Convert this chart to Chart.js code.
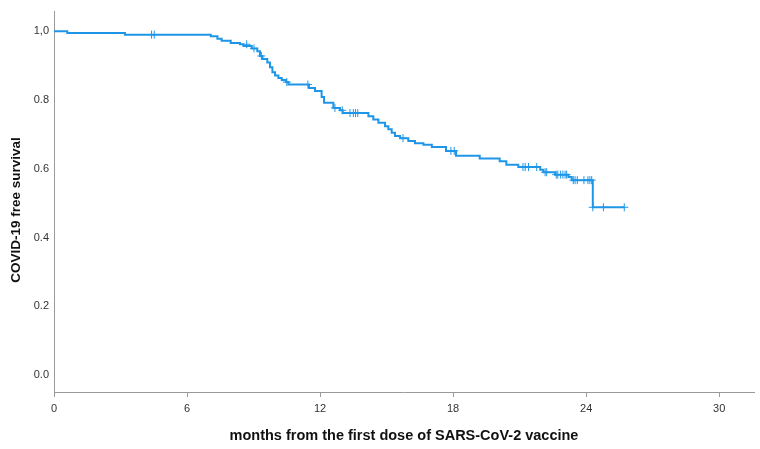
<!DOCTYPE html>
<html>
<head>
<meta charset="utf-8">
<script src="https://cdn.jsdelivr.net/npm/chart.js@4"></script>
<style>
  html, body { margin: 0; padding: 0; background: #fff; }
  #wrap { width: 760px; height: 449px; }
</style>
</head>
<body>
<div id="wrap"><canvas id="kmChart" width="760" height="449"></canvas></div>
<script>
// Kaplan-Meier: event times (months) and survival after each event
const eventMonths = [0, 0.6, 3.2, 7.07, 7.37, 7.56, 7.97, 8.39, 8.54, 8.92, 9.17, 9.29, 9.4, 9.62,
  9.74, 9.85, 9.97, 10.12, 10.27, 10.46, 10.57, 11.5, 11.77, 12.07, 12.18, 12.6, 12.9, 13.02,
  14.18, 14.4, 14.63, 14.93, 15.08, 15.23, 15.38, 15.61, 15.98, 16.28, 16.66, 17.04, 17.68,
  18.13, 19.2, 20.1, 20.4, 20.94, 21.93, 22.07, 22.6, 23.2, 23.35, 24.3, 25.72];
const survival = [1.0, 0.995, 0.99, 0.985, 0.978, 0.972, 0.966, 0.962, 0.957, 0.95, 0.942, 0.928, 0.919, 0.909,
  0.895, 0.881, 0.871, 0.864, 0.858, 0.852, 0.845, 0.835, 0.826, 0.809, 0.792, 0.777, 0.77, 0.762,
  0.753, 0.743, 0.734, 0.724, 0.715, 0.705, 0.695, 0.689, 0.681, 0.674, 0.67, 0.663, 0.652,
  0.638, 0.63, 0.622, 0.612, 0.605, 0.597, 0.59, 0.583, 0.576, 0.567, 0.488, 0.488];

// censored cases (+ marks)
const censorMonths = [4.4, 4.52, 8.69, 9.02, 9.35, 10.5, 11.45, 12.67, 13.0, 13.35, 13.5, 13.6, 13.7,
  15.74, 17.9, 18.05, 21.15, 21.25, 21.4, 21.77, 22.15, 22.22, 22.65, 22.72, 22.85, 22.95, 23.05, 23.12,
  23.42, 23.5, 23.6, 23.9, 24.08, 24.17, 24.25, 24.3, 24.78, 25.72];
const censorSurvival = [0.99, 0.99, 0.962, 0.95, 0.928, 0.852, 0.845, 0.777, 0.77, 0.762, 0.762, 0.762, 0.762,
  0.689, 0.652, 0.652, 0.605, 0.605, 0.605, 0.605, 0.59, 0.59, 0.583, 0.583, 0.583, 0.583, 0.583, 0.583,
  0.567, 0.567, 0.567, 0.567, 0.567, 0.567, 0.567, 0.488, 0.488, 0.488];

const xTickValues = [0, 6, 12, 18, 24, 30];
const yTickValues = [0, 0.2, 0.4, 0.6, 0.8, 1.0];

const lineColor = '#1e96e8';
const axisColor = '#9a9a9a';
const narrow = "'Liberation Sans Narrow', 'Arial Narrow', 'Liberation Sans', sans-serif";

const yTitlePlugin = {
  id: 'yTitle',
  afterDraw(chart) {
    const ctx = chart.ctx;
    ctx.save();
    ctx.translate(16, 210);
    ctx.rotate(-Math.PI / 2);
    ctx.font = 'bold 13.5px ' + narrow;
    ctx.fillStyle = '#111';
    ctx.textAlign = 'center';
    ctx.textBaseline = 'middle';
    ctx.fillText('COVID-19 free survival', 0, 0);
    ctx.restore();
  }
};

new Chart(document.getElementById('kmChart'), {
  type: 'line',
  data: {
    datasets: [{
      label: 'survival',
      data: eventMonths.map((m, i) => ({ x: m, y: survival[i] })),
      borderColor: lineColor,
      borderWidth: 2,
      stepped: true,
      pointRadius: 0,
      fill: false
    }, {
      label: 'censored',
      type: 'scatter',
      data: censorMonths.map((m, i) => ({ x: m, y: censorSurvival[i] })),
      pointStyle: 'cross',
      pointRadius: 4,
      borderColor: lineColor,
      borderWidth: 1,
      backgroundColor: lineColor
    }]
  },
  options: {
    responsive: false,
    animation: false,
    layout: { padding: { top: 7, right: 6, left: 0, bottom: 0 } },
    plugins: { legend: { display: false }, tooltip: { enabled: false } },
    scales: {
      x: {
        type: 'linear',
        min: 0,
        max: 31.57,
        afterFit: s => { s.height = 57; },
        afterBuildTicks: s => { s.ticks = xTickValues.map(v => ({ value: v })); },
        grid: { drawOnChartArea: false, drawTicks: true, tickLength: 5, color: axisColor },
        border: { color: axisColor, width: 1 },
        ticks: { padding: 5, color: '#333', font: { family: narrow, size: 11 }, maxRotation: 0 },
        title: {
          display: true,
          text: 'months from the first dose of SARS-CoV-2 vaccine',
          color: '#111',
          font: { family: narrow, size: 14.5, weight: 'bold' },
          padding: { top: 0, bottom: 4 }
        }
      },
      y: {
        type: 'linear',
        min: -0.049,
        max: 1.057,
        afterFit: s => { s.width = 54; },
        afterBuildTicks: s => { s.ticks = yTickValues.map(v => ({ value: v })); },
        grid: { display: false, drawTicks: false },
        border: { display: true, color: axisColor, width: 1 },
        ticks: {
          padding: 5,
          color: '#333',
          font: { family: narrow, size: 11 },
          callback: v => v === 1 ? '1,0' : v.toFixed(1)
        }
      }
    }
  },
  plugins: [yTitlePlugin]
});
</script>
</body>
</html>
